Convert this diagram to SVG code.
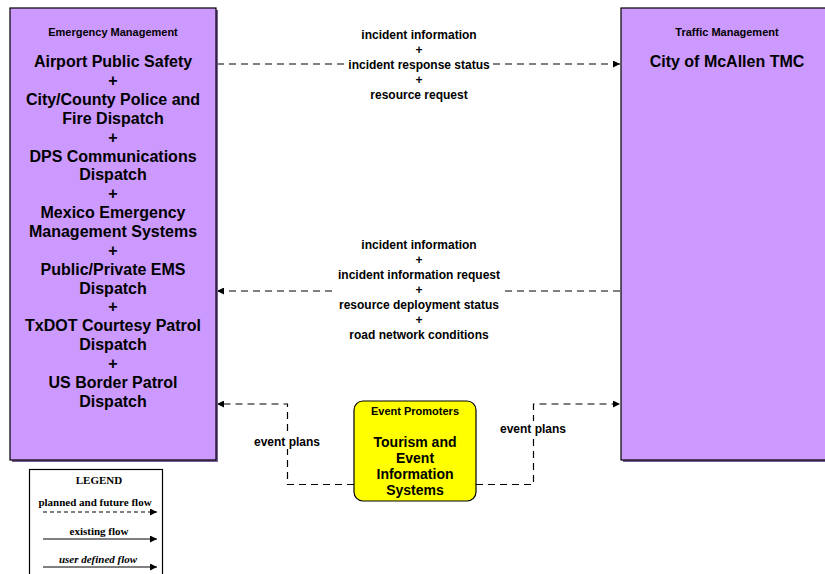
<svg xmlns="http://www.w3.org/2000/svg" width="825" height="574" viewBox="0 0 825 574">
<style>
.box{fill:#CC99FF;stroke:#000;stroke-width:1.2}
.shadow{fill:#7a5c99}
.t{font-family:"Liberation Sans",Arial,sans-serif;font-weight:bold;text-anchor:middle;fill:#000}
.ttl{font-size:11px}
.big{font-size:16px}
.mid{font-size:14px}
.lbl{font-size:12px}
.flow{fill:none;stroke:#000;stroke-width:1.2;stroke-dasharray:7,5}
.bg{fill:#fff}
.lg{font-family:"Liberation Serif","Times New Roman",serif;font-weight:bold;font-size:11px;text-anchor:middle}
</style>
<defs>
<marker id="ah" viewBox="0 0 10 10" refX="10" refY="5" markerWidth="9" markerHeight="7" markerUnits="userSpaceOnUse" orient="auto">
<path d="M0,0 L10,5 L0,10 z" fill="#000"/>
</marker>
</defs>
<rect width="825" height="574" fill="#fff"/>

<g id="connectors">
<g id="c1">
<path class="flow" d="M217,64 H620" marker-end="url(#ah)"/>
<rect class="bg" x="345" y="57" width="148" height="14"/>
<text class="t lbl" x="419" y="39.3">incident information<tspan x="419" dy="14.8">+</tspan><tspan x="419" dy="14.8">incident response status</tspan><tspan x="419" dy="14.8">+</tspan><tspan x="419" dy="14.8">resource request</tspan></text>
</g>
<g id="c2">
<path class="flow" d="M620,291 H217" marker-end="url(#ah)"/>
<rect class="bg" x="333" y="238" width="172" height="104"/>
<text class="t lbl" x="419" y="249.3">incident information<tspan x="419" dy="15">+</tspan><tspan x="419" dy="15">incident information request</tspan><tspan x="419" dy="15">+</tspan><tspan x="419" dy="15">resource deployment status</tspan><tspan x="419" dy="15">+</tspan><tspan x="419" dy="15">road network conditions</tspan></text>
</g>
<g id="c3">
<path class="flow" d="M354,484.5 H287.5 V404 H217" marker-end="url(#ah)"/>
<rect class="bg" x="253" y="434" width="70" height="15"/>
<text class="t lbl" x="287" y="446.3">event plans</text>
</g>
<g id="c4">
<path class="flow" d="M476,484.5 H533.5 V404 H620" marker-end="url(#ah)"/>
<rect class="bg" x="498" y="421" width="70" height="15"/>
<text class="t lbl" x="533" y="433.3">event plans</text>
</g>
</g>

<g id="emergency">
<rect class="shadow" x="12" y="10" width="206" height="452"/>
<rect class="box" x="10" y="8" width="206" height="452"/>
<text class="t ttl" x="113" y="36">Emergency Management</text>
<text class="t big" x="113" y="67.3">Airport Public Safety<tspan x="113" dy="18.85">+</tspan><tspan x="113" dy="18.85">City/County Police and</tspan><tspan x="113" dy="18.85">Fire Dispatch</tspan><tspan x="113" dy="18.85">+</tspan><tspan x="113" dy="18.85">DPS Communications</tspan><tspan x="113" dy="18.85">Dispatch</tspan><tspan x="113" dy="18.85">+</tspan><tspan x="113" dy="18.85">Mexico Emergency</tspan><tspan x="113" dy="18.85">Management Systems</tspan><tspan x="113" dy="18.85">+</tspan><tspan x="113" dy="18.85">Public/Private EMS</tspan><tspan x="113" dy="18.85">Dispatch</tspan><tspan x="113" dy="18.85">+</tspan><tspan x="113" dy="18.85">TxDOT Courtesy Patrol</tspan><tspan x="113" dy="18.85">Dispatch</tspan><tspan x="113" dy="18.85">+</tspan><tspan x="113" dy="18.85">US Border Patrol</tspan><tspan x="113" dy="18.85">Dispatch</tspan></text>
</g>

<g id="traffic">
<rect class="shadow" x="623" y="10" width="210" height="452"/>
<rect class="box" x="621" y="8" width="210" height="452"/>
<text class="t ttl" x="727" y="36">Traffic Management</text>
<text class="t big" x="727" y="67.3">City of McAllen TMC</text>
</g>

<g id="event">
<rect x="354" y="401" width="122" height="100" rx="9" ry="9" fill="#FFFF00" stroke="#000" stroke-width="1.2"/>
<text class="t ttl" x="415" y="414.5">Event Promoters</text>
<text class="t mid" x="415" y="446.7">Tourism and<tspan x="415" dy="16">Event</tspan><tspan x="415" dy="16">Information</tspan><tspan x="415" dy="16">Systems</tspan></text>
</g>

<g id="legend">
<rect x="29.5" y="469.5" width="133" height="110" fill="#fff" stroke="#000" stroke-width="1.2"/>
<text class="lg" x="99" y="484">LEGEND</text>
<text class="lg" x="95" y="505.5">planned and future flow</text>
<path d="M43,512 H157" fill="none" stroke="#000" stroke-width="1" stroke-dasharray="4,3" marker-end="url(#ah)"/>
<text class="lg" x="99" y="535">existing flow</text>
<path d="M43,539 H157" fill="none" stroke="#000" stroke-width="1" marker-end="url(#ah)"/>
<text class="lg" x="98" y="562.5" font-style="italic">user defined flow</text>
<path d="M43,567 H157" fill="none" stroke="#000" stroke-width="1" marker-end="url(#ah)"/>
</g>
</svg>
